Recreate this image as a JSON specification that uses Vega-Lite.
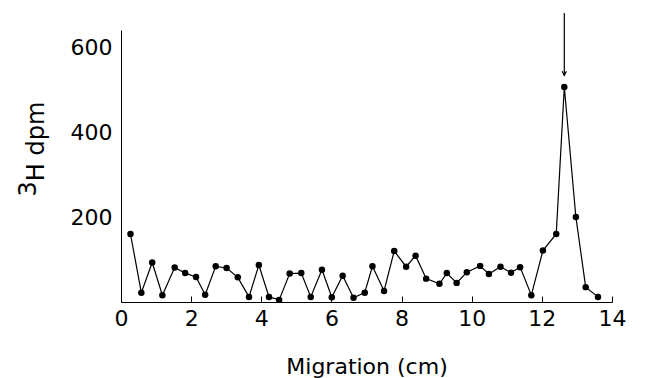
{
  "$schema": "https://vega.github.io/schema/vega-lite/v6.json",
  "autosize": "none",
  "width": 491,
  "height": 272,
  "padding": {"left": 121, "top": 30, "right": 50, "bottom": 76},
  "background": "white",
  "config": {
    "view": {"stroke": null},
    "font": "DejaVu Sans",
    "axis": {"grid": false, "domainColor": "black", "tickColor": "black", "labelColor": "black", "titleColor": "black", "labelFont": "DejaVu Sans", "titleFont": "DejaVu Sans", "labelFontSize": 22, "titleFontSize": 22, "titleFontWeight": "normal"}
  },
  "datasets": {
    "profile": [
      {"x": 0.27, "y": 160}, {"x": 0.58, "y": 22}, {"x": 0.89, "y": 93}, {"x": 1.18, "y": 16},
      {"x": 1.53, "y": 81}, {"x": 1.83, "y": 68}, {"x": 2.14, "y": 59}, {"x": 2.40, "y": 17},
      {"x": 2.70, "y": 84}, {"x": 3.01, "y": 80}, {"x": 3.33, "y": 58}, {"x": 3.65, "y": 12},
      {"x": 3.93, "y": 87}, {"x": 4.22, "y": 12}, {"x": 4.51, "y": 5}, {"x": 4.81, "y": 67},
      {"x": 5.14, "y": 68}, {"x": 5.41, "y": 12}, {"x": 5.73, "y": 76}, {"x": 6.01, "y": 11},
      {"x": 6.32, "y": 62}, {"x": 6.63, "y": 10}, {"x": 6.95, "y": 22}, {"x": 7.17, "y": 84},
      {"x": 7.50, "y": 26}, {"x": 7.79, "y": 120}, {"x": 8.13, "y": 83}, {"x": 8.40, "y": 109},
      {"x": 8.70, "y": 55}, {"x": 9.08, "y": 43}, {"x": 9.29, "y": 68}, {"x": 9.57, "y": 45},
      {"x": 9.86, "y": 70}, {"x": 10.24, "y": 85}, {"x": 10.49, "y": 66}, {"x": 10.82, "y": 83},
      {"x": 11.12, "y": 69}, {"x": 11.38, "y": 82}, {"x": 11.70, "y": 16}, {"x": 12.03, "y": 121},
      {"x": 12.41, "y": 160}, {"x": 12.64, "y": 506}, {"x": 12.97, "y": 200}, {"x": 13.25, "y": 35},
      {"x": 13.60, "y": 12}
    ],
    "arrow": [{"x": 12.64, "top": 680, "tip": 533}]
  },
  "layer": [
    {
      "data": {"name": "profile"},
      "mark": {"type": "line", "color": "black", "strokeWidth": 1.2},
      "encoding": {
        "x": {"field": "x", "type": "quantitative", "scale": {"domain": [0, 14], "nice": false},
          "axis": {"values": [0, 2, 4, 6, 8, 10, 12, 14], "title": "Migration (cm)", "tickSize": -6, "labelPadding": 12, "titleY": 54, "titleBaseline": "top", "labelFlush": false}},
        "y": {"field": "y", "type": "quantitative", "scale": {"domain": [0, 640], "nice": false},
          "axis": {"values": [200, 400, 600], "title": ["3", "\u200b\u00a0\u00a0H dpm"], "titleFontSize": 24, "ticks": false, "labelPadding": 9, "titleX": -86, "titleY": 166, "titleAngle": -90, "titleAlign": "left", "titleBaseline": "alphabetic", "titleLineHeight": 8}}
      }
    },
    {
      "data": {"name": "profile"},
      "mark": {"type": "point", "filled": true, "color": "black", "size": 42, "opacity": 1},
      "encoding": {
        "x": {"field": "x", "type": "quantitative"},
        "y": {"field": "y", "type": "quantitative"}
      }
    },
    {
      "data": {"name": "arrow"},
      "mark": {"type": "rule", "color": "black", "strokeWidth": 1.2, "clip": false},
      "encoding": {
        "x": {"field": "x", "type": "quantitative"},
        "y": {"field": "top", "type": "quantitative"},
        "y2": {"field": "tip"}
      }
    },
    {
      "data": {"name": "arrow"},
      "mark": {"type": "point", "shape": "M-0.5,-1L0,0L0.5,-1", "filled": false, "stroke": "black", "strokeWidth": 1.2, "size": 70, "opacity": 1, "clip": false},
      "encoding": {
        "x": {"field": "x", "type": "quantitative"},
        "y": {"field": "tip", "type": "quantitative"}
      }
    }
  ]
}
